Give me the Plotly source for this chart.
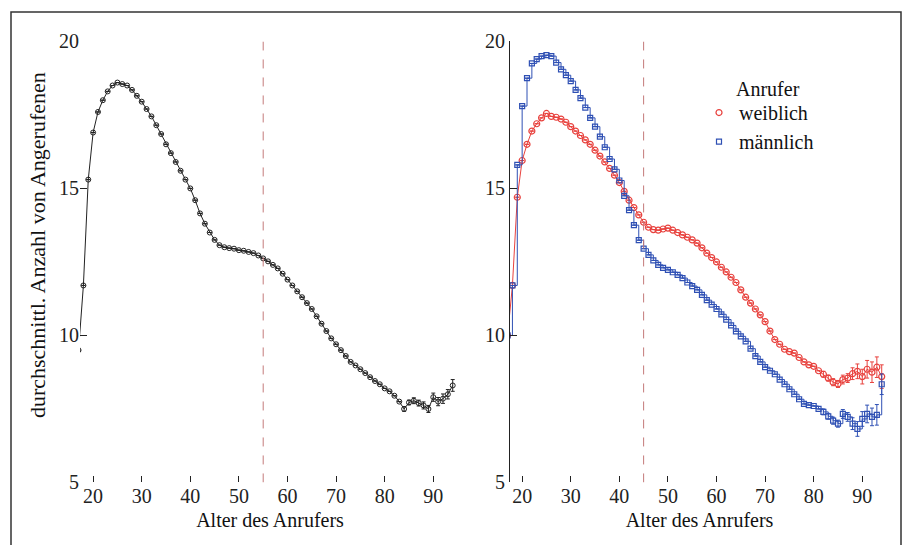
import plotly.graph_objects as go

ages = list(range(17, 95))

# Left panel: all callers
all_callers = [9.5, 11.7, 15.3, 16.9, 17.6, 18.0, 18.3, 18.5, 18.6, 18.55,
               18.5, 18.35, 18.15, 17.95, 17.7, 17.45, 17.15, 16.85, 16.5, 16.2,
               15.9, 15.6, 15.3, 15.0, 14.6, 14.15, 13.8, 13.5, 13.25, 13.07,
               13.0, 12.97, 12.95, 12.9, 12.88, 12.84, 12.8, 12.72, 12.62, 12.52,
               12.4, 12.28, 12.1, 11.9, 11.7, 11.5, 11.3, 11.1, 10.9, 10.65,
               10.4, 10.15, 9.9, 9.7, 9.5, 9.3, 9.1, 8.98, 8.85, 8.72,
               8.58, 8.45, 8.34, 8.2, 8.1, 7.95, 7.75, 7.5, 7.72, 7.78,
               7.7, 7.62, 7.5, 7.9, 7.75, 7.85, 8.0, 8.3]

# Right panel: female callers
female = [10.0, 11.7, 14.7, 15.95, 16.5, 16.95, 17.2, 17.4, 17.55, 17.45,
          17.42, 17.36, 17.25, 17.1, 16.95, 16.8, 16.65, 16.5, 16.3, 16.1,
          15.9, 15.68, 15.45, 15.2, 14.9, 14.6, 14.35, 14.1, 13.85, 13.68,
          13.6, 13.58, 13.62, 13.65, 13.58, 13.5, 13.42, 13.34, 13.25, 13.14,
          12.98, 12.8, 12.65, 12.5, 12.32, 12.16, 11.98, 11.8, 11.55, 11.3,
          11.1, 10.9, 10.7, 10.47, 10.15, 9.86, 9.7, 9.53, 9.45, 9.4,
          9.25, 9.1, 9.0, 8.95, 8.8, 8.68, 8.55, 8.41, 8.35, 8.5,
          8.55, 8.7, 8.78, 8.6, 8.85, 8.75, 8.92, 8.6]

# Right panel: male callers
male = [10.0, 11.7, 15.8, 17.8, 18.75, 19.25, 19.4, 19.5, 19.53, 19.5,
        19.28, 19.05, 18.85, 18.65, 18.35, 18.07, 17.75, 17.4, 17.1, 16.76,
        16.4, 16.0, 15.65, 15.27, 14.75, 14.26, 13.75, 13.24, 12.95, 12.74,
        12.55, 12.4, 12.3, 12.23, 12.15, 12.06, 11.95, 11.8, 11.68, 11.55,
        11.38, 11.2, 11.05, 10.9, 10.72, 10.54, 10.34, 10.14, 9.97, 9.8,
        9.55, 9.3, 9.1, 8.92, 8.8, 8.68, 8.5, 8.34, 8.17, 8.0,
        7.83, 7.67, 7.63, 7.6, 7.5, 7.4, 7.25, 7.1, 7.0, 7.33,
        7.23, 7.0, 6.82, 7.16, 7.33, 7.23, 7.3, 8.34]

# error bars (only visible at old ages)
err_all = [0]*67 + [0.08, 0.08, 0.1, 0.1, 0.12, 0.12, 0.14, 0.14, 0.16, 0.16, 0.2]
err_female = [0]*65 + [0.1, 0.1, 0.12, 0.12, 0.15, 0.15, 0.2, 0.25, 0.25, 0.3, 0.35, 0.35, 0.4]
err_male = [0]*65 + [0.1, 0.1, 0.12, 0.12, 0.15, 0.15, 0.2, 0.25, 0.25, 0.3, 0.3, 0.35, 0.35]

x_ticks = [20, 30, 40, 50, 60, 70, 80, 90]
y_ticks = [5, 10, 15, 20]
cutoff_left = 55
cutoff_right = 45

BLACK = "#222222"
RED = "#e8423e"
BLUE = "#2f50b4"
DASH = "#c47a7a"
FONT = "Liberation Serif, Times New Roman, serif"

fig = go.Figure()

fig.add_trace(go.Scatter(
    x=ages, y=all_callers, mode="lines+markers", xaxis="x", yaxis="y",
    line=dict(color=BLACK, width=1),
    marker=dict(symbol="circle-open", size=5, color=BLACK, line=dict(width=1)),
    error_y=dict(type="data", array=err_all, color=BLACK, thickness=1, width=2),
    showlegend=False))

fig.add_trace(go.Scatter(
    x=ages, y=female, mode="lines+markers", xaxis="x2", yaxis="y2",
    line=dict(color=RED, width=1),
    marker=dict(symbol="circle-open", size=6, color=RED, line=dict(width=1.2)),
    error_y=dict(type="data", array=err_female, color=RED, thickness=1, width=2),
    showlegend=False))

fig.add_trace(go.Scatter(
    x=ages, y=male, mode="lines+markers", xaxis="x2", yaxis="y2",
    line=dict(color=BLUE, width=1, shape="hv"),
    marker=dict(symbol="square-open", size=5, color=BLUE, line=dict(width=1.2)),
    error_y=dict(type="data", array=err_male, color=BLUE, thickness=1, width=2),
    showlegend=False))

# legend entries (marker only)
fig.add_trace(go.Scatter(x=[None], y=[None], mode="markers", name="weiblich",
                         xaxis="x2", yaxis="y2",
                         marker=dict(symbol="circle-open", size=6, color=RED, line=dict(width=1.2))))
fig.add_trace(go.Scatter(x=[None], y=[None], mode="markers", name="männlich",
                         xaxis="x2", yaxis="y2",
                         marker=dict(symbol="square-open", size=5, color=BLUE, line=dict(width=1.2))))

W, H = 904, 545
Y_OFF, Y_SCALE = 9.4, 0.966   # observed vertical placement of the page in the photo

def px(v):
    return v / W

def py(v):
    fy = (v - Y_OFF) / Y_SCALE
    return (H - fy) / H

axis_common = dict(
    range=[17.3, 95.5], tickvals=x_ticks, ticks="inside", ticklen=6, tickwidth=1,
    tickcolor=BLACK, showgrid=False, zeroline=False, showline=False,
    tickfont=dict(family=FONT, size=20, color=BLACK),
    title=dict(text="Alter des Anrufers", font=dict(family=FONT, size=20, color="#111111"), standoff=6),
)
yaxis_common = dict(
    range=[5, 20], tickvals=y_ticks, ticks="inside", ticklen=7, tickwidth=1,
    tickcolor=BLACK, showgrid=False, zeroline=False,
    tickfont=dict(family=FONT, size=20, color=BLACK),
)

fig.update_layout(
    width=W, height=H,
    margin=dict(l=0, r=0, t=0, b=0),
    paper_bgcolor="white", plot_bgcolor="white",
    font=dict(family=FONT, color=BLACK),
    xaxis=dict(axis_common, domain=[px(80), px(460)], anchor="y"),
    yaxis=dict(yaxis_common, domain=[py(484), py(40)], anchor="x", showline=False),
    xaxis2=dict(axis_common, domain=[px(510), px(889)], anchor="y2", range=[17.5, 95.5]),
    yaxis2=dict(yaxis_common, domain=[py(484), py(40)], anchor="x2",
                showline=True, linecolor=BLACK, linewidth=1.2),
    legend=dict(x=px(699), y=py(92), xanchor="left", yanchor="top",
                font=dict(family=FONT, size=20, color="#111111"),
                bgcolor="rgba(0,0,0,0)", itemwidth=30, tracegroupgap=0),
    shapes=[
        dict(type="line", xref="x", yref="y", x0=cutoff_left, x1=cutoff_left, y0=5, y1=20,
             line=dict(color=DASH, width=1, dash="dash")),
        dict(type="line", xref="x2", yref="y2", x0=cutoff_right, x1=cutoff_right, y0=5, y1=20,
             line=dict(color=DASH, width=1, dash="dash")),
        dict(type="rect", xref="paper", yref="paper", x0=px(11), x1=px(901), y0=-0.05, y1=min(py(10), 0.998),
             line=dict(color="#333333", width=1.5), fillcolor="rgba(0,0,0,0)", layer="above"),
    ],
    annotations=[
        dict(text="durchschnittl. Anzahl von Angerufenen", xref="paper", yref="paper",
             x=px(37), y=py(245), xanchor="center", yanchor="middle", textangle=-90,
             showarrow=False, font=dict(family=FONT, size=22, color="#111111")),
        dict(text="Anrufer", xref="paper", yref="paper", x=px(768), y=py(88),
             xanchor="center", yanchor="middle",
             showarrow=False, font=dict(family=FONT, size=20, color="#111111")),
    ],
)

fig.write_html("out.html", config={"displayModeBar": False},
               post_script="document.body.style.margin='0px';document.body.style.padding='0px';")
